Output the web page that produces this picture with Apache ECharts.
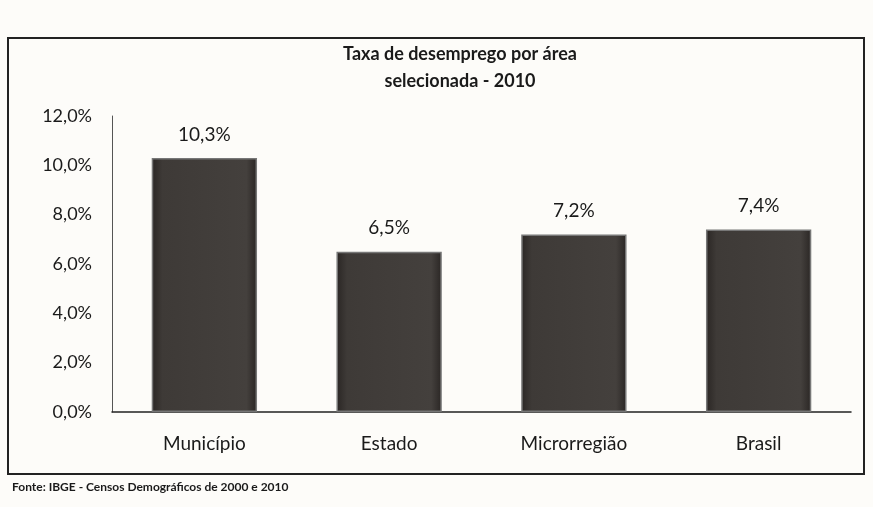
<!DOCTYPE html>
<html>
<head>
<meta charset="utf-8">
<script src="https://cdn.jsdelivr.net/npm/echarts@6/dist/echarts.min.js"></script>
<style>
  html, body { margin: 0; padding: 0; background: #fff; }
  #chart { width: 873px; height: 507px; }
</style>
</head>
<body>
<div id="chart"></div>
<script>
// dados
var areas = ['Município', 'Estado', 'Microrregião', 'Brasil'];
var taxas = [10.3, 6.5, 7.2, 7.4];
var ticksY = [0, 2, 4, 6, 8, 10, 12];

var fonte = 'Lato, "Open Sans", sans-serif';

function pct(v) {
    return v.toFixed(1).replace('.', ',') + '%';
}

var myChart = echarts.init(document.getElementById('chart'));
var option = {
    backgroundColor: '#fdfcf9',
    textStyle: { fontFamily: fonte },
    title: {
        text: 'Taxa de desemprego por área\nselecionada - 2010',
        left: 455,
        top: 36,
        textAlign: 'center',
        textStyle: {
            fontFamily: fonte,
            fontSize: 18,
            fontWeight: 'bold',
            color: '#1a1a1a',
            lineHeight: 27
        }
    },
    grid: {
        left: 112,
        right: 22,
        top: 116,
        bottom: 95
    },
    xAxis: {
        type: 'category',
        data: areas,
        axisTick: { show: false },
        axisLine: { lineStyle: { color: '#222', width: 1.5 } },
        axisLabel: {
            color: '#1a1a1a',
            fontSize: 19,
            margin: 22
        }
    },
    yAxis: {
        type: 'value',
        min: ticksY[0],
        max: ticksY[ticksY.length - 1],
        interval: 2,
        splitLine: { show: false },
        axisTick: { show: false },
        axisLine: { show: true, lineStyle: { color: '#555', width: 1 } },
        axisLabel: {
            color: '#1a1a1a',
            fontSize: 18,
            margin: 20,
            formatter: function (v) { return pct(v); }
        }
    },
    graphic: [
        {
            type: 'rect',
            shape: { x: 8, y: 38, width: 856, height: 436 },
            style: { fill: 'none', stroke: '#222', lineWidth: 2 },
            z: -1
        },
        {
            type: 'text',
            left: 12,
            top: 481,
            style: {
                text: 'Fonte: IBGE - Censos Demográficos de 2000 e 2010',
                fontFamily: fonte,
                fontSize: 12,
                fontWeight: 'bold',
                fill: '#1a1a1a'
            }
        }
    ],
    series: [
        {
            type: 'bar',
            data: taxas,
            barWidth: '57%',
            itemStyle: {
                color: new echarts.graphic.LinearGradient(0, 0, 1, 0, [
                    { offset: 0, color: '#2a2624' },
                    { offset: 0.1, color: '#3e3a37' },
                    { offset: 0.9, color: '#44403d' },
                    { offset: 1, color: '#2a2624' }
                ]),
                borderColor: '#777',
                borderWidth: 1.5
            },
            label: {
                show: true,
                position: 'top',
                distance: 14,
                fontSize: 19,
                color: '#1a1a1a',
                formatter: function (p) { return pct(p.value); }
            }
        }
    ]
};
myChart.setOption(option);
</script>
</body>
</html>
